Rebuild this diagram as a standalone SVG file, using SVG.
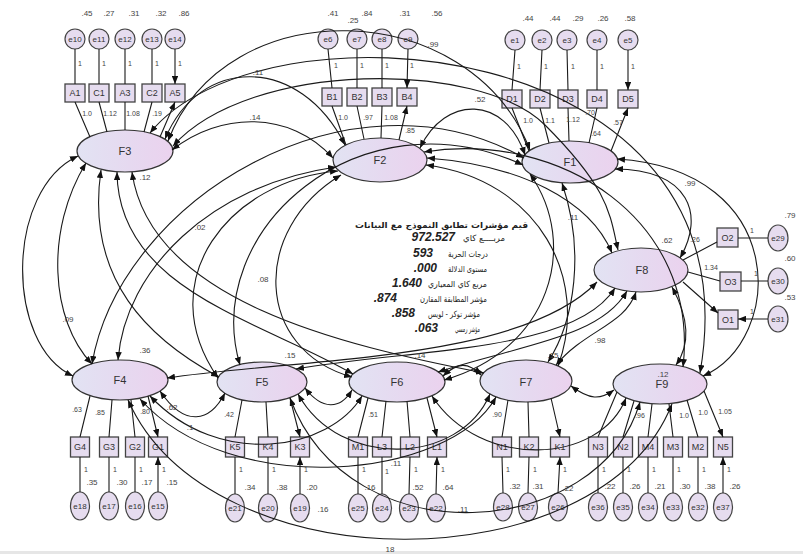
<svg xmlns="http://www.w3.org/2000/svg" width="803" height="554" viewBox="0 0 803 554">
<defs>
<linearGradient id="lg" x1="0" y1="0" x2="1" y2="0"><stop offset="0" stop-color="#e2e3f3"/><stop offset="0.55" stop-color="#e6d9f0"/><stop offset="1" stop-color="#ebd2ee"/></linearGradient>
<marker id="ah" viewBox="0 0 10 8" refX="10" refY="4" markerWidth="8" markerHeight="6.4" markerUnits="userSpaceOnUse" orient="auto-start-reverse"><path d="M0,0L10,4L0,8z" fill="#111"/></marker>
</defs>
<style>
.lat ellipse{fill:url(#lg);stroke:#333;stroke-width:1.2}
.box rect{fill:#e6dcef;stroke:#444;stroke-width:1.3}
.err ellipse{fill:#e6dcef;stroke:#444;stroke-width:1.2}
.fl{font-family:"Liberation Sans",Arial,sans-serif;font-size:11px;fill:#333;text-anchor:middle}
.bl{font-family:"Liberation Sans",Arial,sans-serif;font-size:9px;fill:#333;text-anchor:middle}
.el{font-family:"Liberation Sans",Arial,sans-serif;font-size:8px;fill:#333;text-anchor:middle}
.t{font-family:"Liberation Sans",Arial,sans-serif;font-size:8px;fill:#444;text-anchor:middle}
.s{font-family:"Liberation Sans",Arial,sans-serif;font-size:7px;fill:#444;text-anchor:middle}
.ld{fill:none;stroke:#1a1a1a;stroke-width:1.1;marker-end:url(#ah)}
.cv{fill:none;stroke:#1a1a1a;stroke-width:1.1;marker-start:url(#ah);marker-end:url(#ah)}
.ar{font-family:"DejaVu Sans","Noto Sans",sans-serif;font-size:8.5px;fill:#222;text-anchor:end}
.vl{font-family:"Liberation Sans",Arial,sans-serif;font-size:12px;font-weight:bold;font-style:italic;fill:#222;text-anchor:end}
</style>
<rect width="803" height="554" fill="#fff"/>
<rect y="551" width="803" height="3" fill="#e6e6e6"/>

<g id="F1" class="lat"><ellipse cx="570" cy="162" rx="48" ry="21"/><text class="fl" x="570" y="166">F1</text></g>
<g id="F2" class="lat"><ellipse cx="380" cy="160" rx="47" ry="22"/><text class="fl" x="380" y="164">F2</text></g>
<g id="F3" class="lat"><ellipse cx="125" cy="151" rx="48" ry="21"/><text class="fl" x="125" y="155">F3</text></g>
<g id="F4" class="lat"><ellipse cx="120" cy="380" rx="48" ry="20"/><text class="fl" x="120" y="384">F4</text></g>
<g id="F5" class="lat"><ellipse cx="262" cy="382" rx="45" ry="20"/><text class="fl" x="262" y="386">F5</text></g>
<g id="F6" class="lat"><ellipse cx="397" cy="382" rx="48" ry="20"/><text class="fl" x="397" y="386">F6</text></g>
<g id="F7" class="lat"><ellipse cx="526" cy="381" rx="46" ry="21"/><text class="fl" x="526" y="386">F7</text></g>
<g id="F8" class="lat"><ellipse cx="641" cy="270" rx="47" ry="22"/><text class="fl" x="642" y="274">F8</text></g>
<g id="F9" class="lat"><ellipse cx="660" cy="384" rx="47" ry="20"/><text class="fl" x="662" y="388">F9</text></g>

<g id="A1" class="box"><rect x="65" y="84" width="20" height="18"/><text class="bl" x="75" y="96">A1</text></g>
<g id="C1" class="box"><rect x="89" y="84" width="20" height="18"/><text class="bl" x="99" y="96">C1</text></g>
<g id="A3" class="box"><rect x="115" y="84" width="20" height="18"/><text class="bl" x="125" y="96">A3</text></g>
<g id="C2" class="box"><rect x="142" y="84" width="20" height="18"/><text class="bl" x="152" y="96">C2</text></g>
<g id="A5" class="box"><rect x="165" y="84" width="20" height="18"/><text class="bl" x="175" y="96">A5</text></g>
<g id="e10" class="err"><ellipse cx="75" cy="39" rx="10" ry="10"/><text class="el" x="75" y="42">e10</text></g>
<g id="e11" class="err"><ellipse cx="99" cy="39" rx="10" ry="10"/><text class="el" x="99" y="42">e11</text></g>
<g id="e12" class="err"><ellipse cx="125" cy="39" rx="10" ry="10"/><text class="el" x="125" y="42">e12</text></g>
<g id="e13" class="err"><ellipse cx="152" cy="39" rx="10" ry="10"/><text class="el" x="152" y="42">e13</text></g>
<g id="e14" class="err"><ellipse cx="175" cy="39" rx="10" ry="10"/><text class="el" x="175" y="42">e14</text></g>

<g id="B1" class="box"><rect x="322" y="88" width="20" height="18"/><text class="bl" x="332" y="100">B1</text></g>
<g id="B2" class="box"><rect x="347" y="88" width="20" height="18"/><text class="bl" x="357" y="100">B2</text></g>
<g id="B3" class="box"><rect x="372" y="88" width="20" height="18"/><text class="bl" x="382" y="100">B3</text></g>
<g id="B4" class="box"><rect x="397" y="88" width="20" height="18"/><text class="bl" x="407" y="100">B4</text></g>
<g id="e6" class="err"><ellipse cx="328" cy="39" rx="10" ry="10"/><text class="el" x="328" y="42">e6</text></g>
<g id="e7" class="err"><ellipse cx="357" cy="39" rx="10" ry="10"/><text class="el" x="357" y="42">e7</text></g>
<g id="e8" class="err"><ellipse cx="382" cy="39" rx="10" ry="10"/><text class="el" x="382" y="42">e8</text></g>
<g id="e9" class="err"><ellipse cx="408" cy="39" rx="10" ry="10"/><text class="el" x="408" y="42">e9</text></g>

<g id="D1" class="box"><rect x="502" y="90" width="20" height="18"/><text class="bl" x="512" y="102">D1</text></g>
<g id="D2" class="box"><rect x="530" y="90" width="20" height="18"/><text class="bl" x="540" y="102">D2</text></g>
<g id="D3" class="box"><rect x="558" y="90" width="20" height="18"/><text class="bl" x="568" y="102">D3</text></g>
<g id="D4" class="box"><rect x="587" y="90" width="20" height="18"/><text class="bl" x="597" y="102">D4</text></g>
<g id="D5" class="box"><rect x="618" y="90" width="20" height="18"/><text class="bl" x="628" y="102">D5</text></g>
<g id="e1" class="err"><ellipse cx="515" cy="40" rx="10" ry="10"/><text class="el" x="515" y="43">e1</text></g>
<g id="e2" class="err"><ellipse cx="542" cy="40" rx="10" ry="10"/><text class="el" x="542" y="43">e2</text></g>
<g id="e3" class="err"><ellipse cx="567" cy="40" rx="10" ry="10"/><text class="el" x="567" y="43">e3</text></g>
<g id="e4" class="err"><ellipse cx="597" cy="40" rx="10" ry="10"/><text class="el" x="597" y="43">e4</text></g>
<g id="e5" class="err"><ellipse cx="628" cy="40" rx="10" ry="10"/><text class="el" x="628" y="43">e5</text></g>

<g id="O2" class="box"><rect x="717" y="228" width="21" height="19"/><text class="bl" x="727.5" y="241">O2</text></g>
<g id="O3" class="box"><rect x="720" y="272" width="21" height="19"/><text class="bl" x="730.5" y="285">O3</text></g>
<g id="O1" class="box"><rect x="718" y="310" width="20" height="19"/><text class="bl" x="728" y="323">O1</text></g>
<g id="e29" class="err"><ellipse cx="778" cy="238" rx="10" ry="13"/><text class="el" x="778" y="241">e29</text></g>
<g id="e30" class="err"><ellipse cx="778" cy="281" rx="10" ry="13"/><text class="el" x="778" y="284">e30</text></g>
<g id="e31" class="err"><ellipse cx="778" cy="319" rx="10" ry="13"/><text class="el" x="778" y="322">e31</text></g>

<g id="G4" class="box"><rect x="70.5" y="437" width="19" height="20"/><text class="bl" x="80" y="450">G4</text></g>
<g id="G3" class="box"><rect x="99.5" y="437" width="19" height="20"/><text class="bl" x="109" y="450">G3</text></g>
<g id="G2" class="box"><rect x="125.5" y="437" width="19" height="20"/><text class="bl" x="135" y="450">G2</text></g>
<g id="G1" class="box"><rect x="148.5" y="437" width="19" height="20"/><text class="bl" x="158" y="450">G1</text></g>
<g id="e18" class="err"><ellipse cx="80" cy="506" rx="9.5" ry="14"/><text class="el" x="80" y="509">e18</text></g>
<g id="e17" class="err"><ellipse cx="109" cy="506" rx="9.5" ry="14"/><text class="el" x="109" y="509">e17</text></g>
<g id="e16" class="err"><ellipse cx="135" cy="506" rx="9.5" ry="14"/><text class="el" x="135" y="509">e16</text></g>
<g id="e15" class="err"><ellipse cx="158" cy="506" rx="9.5" ry="14"/><text class="el" x="158" y="509">e15</text></g>

<g id="K5" class="box"><rect x="225.5" y="437" width="19" height="20"/><text class="bl" x="235" y="450">K5</text></g>
<g id="K4" class="box"><rect x="258.5" y="437" width="19" height="20"/><text class="bl" x="268" y="450">K4</text></g>
<g id="K3" class="box"><rect x="290.5" y="437" width="19" height="20"/><text class="bl" x="300" y="450">K3</text></g>
<g id="e21" class="err"><ellipse cx="235" cy="508" rx="9.5" ry="14"/><text class="el" x="235" y="511">e21</text></g>
<g id="e20" class="err"><ellipse cx="268" cy="508" rx="9.5" ry="14"/><text class="el" x="268" y="511">e20</text></g>
<g id="e19" class="err"><ellipse cx="300" cy="508" rx="9.5" ry="14"/><text class="el" x="300" y="511">e19</text></g>

<g id="M1" class="box"><rect x="348.5" y="437" width="19" height="20"/><text class="bl" x="358" y="450">M1</text></g>
<g id="L3" class="box"><rect x="372.5" y="437" width="19" height="20"/><text class="bl" x="382" y="450">L3</text></g>
<g id="L2" class="box"><rect x="400.5" y="437" width="19" height="20"/><text class="bl" x="410" y="450">L2</text></g>
<g id="L1" class="box"><rect x="427.5" y="437" width="19" height="20"/><text class="bl" x="437" y="450">L1</text></g>
<g id="e25" class="err"><ellipse cx="358" cy="508" rx="9.5" ry="14"/><text class="el" x="358" y="511">e25</text></g>
<g id="e24" class="err"><ellipse cx="382" cy="508" rx="9.5" ry="14"/><text class="el" x="382" y="511">e24</text></g>
<g id="e23" class="err"><ellipse cx="409" cy="508" rx="9.5" ry="14"/><text class="el" x="409" y="511">e23</text></g>
<g id="e22" class="err"><ellipse cx="436" cy="508" rx="9.5" ry="14"/><text class="el" x="436" y="511">e22</text></g>

<g id="N1" class="box"><rect x="492.5" y="437" width="19" height="20"/><text class="bl" x="502" y="450">N1</text></g>
<g id="K2" class="box"><rect x="519.5" y="437" width="19" height="20"/><text class="bl" x="529" y="450">K2</text></g>
<g id="K1" class="box"><rect x="550.5" y="437" width="19" height="20"/><text class="bl" x="560" y="450">K1</text></g>
<g id="e28" class="err"><ellipse cx="503" cy="507" rx="9.5" ry="14"/><text class="el" x="503" y="510">e28</text></g>
<g id="e27" class="err"><ellipse cx="528" cy="507" rx="9.5" ry="14"/><text class="el" x="528" y="510">e27</text></g>
<g id="e26" class="err"><ellipse cx="558" cy="507" rx="9.5" ry="14"/><text class="el" x="558" y="510">e26</text></g>

<g id="N3" class="box"><rect x="588.5" y="437" width="19" height="20"/><text class="bl" x="598" y="450">N3</text></g>
<g id="N2" class="box"><rect x="613.5" y="437" width="19" height="20"/><text class="bl" x="623" y="450">N2</text></g>
<g id="M4" class="box"><rect x="638.5" y="437" width="19" height="20"/><text class="bl" x="648" y="450">M4</text></g>
<g id="M3" class="box"><rect x="663.5" y="437" width="19" height="20"/><text class="bl" x="673" y="450">M3</text></g>
<g id="M2" class="box"><rect x="688.5" y="437" width="19" height="20"/><text class="bl" x="698" y="450">M2</text></g>
<g id="N5" class="box"><rect x="713.5" y="437" width="19" height="20"/><text class="bl" x="723" y="450">N5</text></g>
<g id="e36" class="err"><ellipse cx="598" cy="507" rx="9.5" ry="14"/><text class="el" x="598" y="510">e36</text></g>
<g id="e35" class="err"><ellipse cx="623" cy="507" rx="9.5" ry="14"/><text class="el" x="623" y="510">e35</text></g>
<g id="e34" class="err"><ellipse cx="648" cy="507" rx="9.5" ry="14"/><text class="el" x="648" y="510">e34</text></g>
<g id="e33" class="err"><ellipse cx="673" cy="507" rx="9.5" ry="14"/><text class="el" x="673" y="510">e33</text></g>
<g id="e32" class="err"><ellipse cx="698" cy="507" rx="9.5" ry="14"/><text class="el" x="698" y="510">e32</text></g>
<g id="e37" class="err"><ellipse cx="723" cy="507" rx="9.5" ry="14"/><text class="el" x="723" y="510">e37</text></g>

<g id="fit">
<text class="ar" x="528" y="228" font-weight="bold" textLength="173" lengthAdjust="spacingAndGlyphs">قيم مؤشرات تطابق النموذج مع البيانات</text>
<text class="ar" x="505" y="241" textLength="42" lengthAdjust="spacingAndGlyphs">مربــــع كاي</text>
<text class="ar" x="488" y="257" textLength="40" lengthAdjust="spacingAndGlyphs">درجات الحرية</text>
<text class="ar" x="487" y="272" textLength="39" lengthAdjust="spacingAndGlyphs">مستوى الدلالة</text>
<text class="ar" x="487" y="287" textLength="59" lengthAdjust="spacingAndGlyphs">مربع كاي المعياري</text>
<text class="ar" x="487" y="302" textLength="67" lengthAdjust="spacingAndGlyphs">مؤشر المطابقة المقارن</text>
<text class="ar" x="480" y="317" textLength="52" lengthAdjust="spacingAndGlyphs">مؤشر توكر - لويس</text>
<text class="ar" x="480" y="332" textLength="25" lengthAdjust="spacingAndGlyphs">مؤشر رمسي</text>
<text class="vl" x="455" y="241">972.527</text>
<text class="vl" x="433" y="257">593</text>
<text class="vl" x="437" y="272">.000</text>
<text class="vl" x="422" y="287">1.640</text>
<text class="vl" x="397" y="302">.874</text>
<text class="vl" x="415" y="317">.858</text>
<text class="vl" x="438" y="332">.063</text>
</g>

<g id="connectors">
<path class="ld" d="M75,49V84M99,49V84M125,49V84M152,49V84M175,49V84"/>
<path class="ld" d="M328,49L332,88M357,49V88M382,49V88M408,49L407,88"/>
<path class="ld" d="M515,50L512,90M542,50L540,90M567,50L568,90M597,50V90M628,50V90"/>
<path class="ld" d="M768,238H738M768,281H741M768,319H738"/>
<path class="ld" d="M80,492V457M109,492V457M135,492V457M158,492V457"/>
<path class="ld" d="M235,494V457M268,494V457M300,494V457"/>
<path class="ld" d="M358,494V457M382,494V457M409,494L410,457M436,494L437,457"/>
<path class="ld" d="M503,493L502,457M528,493L529,457M558,493L560,457"/>
<path class="ld" d="M598,493V457M623,493V457M648,493V457M673,493V457M698,493V457M723,493V457"/>
<path class="ld" d="M90,137L75,102M107,132L99,102M125,130V102M144,132L152,102M160,137L175,102"/>
<path class="ld" d="M346,145L332,106M364,139L357,106M381,138L382,106M399,140L407,106"/>
<path class="ld" d="M529,151L512,108M549,143L540,108M569,141L568,108M589,143L597,108M611,151L628,108"/>
<path class="ld" d="M683,260L717,242M688,272L720,281M683,282L718,313"/>
<path class="ld" d="M90,396L80,437M112,400L109,437M131,400L135,437M148,396L158,437"/>
<path class="ld" d="M242,400L235,437M266,402L268,437M290,398L300,437"/>
<path class="ld" d="M368,398L358,437M386,401L382,437M407,401L410,437M427,398L437,437"/>
<path class="ld" d="M508,400L502,437M528,402L529,437M551,398L560,437"/>
<path class="ld" d="M617,392L598,437M634,401L623,437M652,404L648,437M669,404L673,437M687,400L698,437M704,391L723,437"/>
<path class="cv" d="M525,155C505,95 445,95 420,148"/>
<path class="cv" d="M168,141C225,-10 470,-5 530,150"/>
<path class="cv" d="M524,158C350,60 120,200 92,364"/>
<path class="cv" d="M523,165C360,90 200,230 240,365"/>
<path class="cv" d="M530,174C580,245 550,350 444,380"/>
<path class="cv" d="M562,183C585,250 575,320 548,362"/>
<path class="cv" d="M615,169C690,170 705,215 680,258"/>
<path class="cv" d="M617,159C790,170 785,340 703,376"/>
<path class="cv" d="M172,150C220,112 290,110 333,158"/>
<path class="cv" d="M165,139C200,55 300,55 345,145"/>
<path class="cv" d="M173,146C250,60 480,60 545,125S610,215 618,250"/>
<path class="cv" d="M150,133C260,-5 760,30 700,373"/>
<path class="cv" d="M78,156C5,190 5,345 73,376"/>
<path class="cv" d="M86,163C45,230 50,320 92,364"/>
<path class="cv" d="M101,170C85,280 150,340 219,377"/>
<path class="cv" d="M117,172C118,290 260,320 353,374"/>
<path class="cv" d="M132,172C150,300 340,345 484,373"/>
<path class="cv" d="M336,167C210,185 125,270 118,360"/>
<path class="cv" d="M338,171C230,180 150,280 218,378"/>
<path class="cv" d="M341,175C250,230 255,350 352,377"/>
<path class="cv" d="M426,165C540,180 590,280 558,366"/>
<path class="cv" d="M427,158C520,165 590,200 612,253"/>
<path class="cv" d="M424,152C560,130 700,220 683,367"/>
<path class="cv" d="M160,391C185,428 210,422 225,393"/>
<path class="cv" d="M150,396C220,470 330,450 362,396"/>
<path class="cv" d="M140,399C230,500 450,480 496,397"/>
<path class="cv" d="M167,378C300,358 520,362 597,282"/>
<path class="cv" d="M128,400C210,585 600,585 672,404"/>
<path class="cv" d="M305,388C322,410 340,410 352,390"/>
<path class="cv" d="M298,394C340,470 460,465 490,394"/>
<path class="cv" d="M296,369C420,348 575,352 615,288"/>
<path class="cv" d="M290,398C350,560 600,540 640,402"/>
<path class="cv" d="M443,376C458,362 468,362 481,375"/>
<path class="cv" d="M438,372C520,345 600,338 627,291"/>
<path class="cv" d="M432,396C480,470 600,465 626,398"/>
<path class="cv" d="M556,365C585,330 625,325 636,292"/>
<path class="cv" d="M571,386C590,400 600,400 614,390"/>
<path class="cv" d="M672,287C690,320 690,345 676,365"/>
</g>

<g id="labels">
<text class="t" x="87" y="16">.45</text><text class="t" x="109" y="16">.27</text><text class="t" x="134" y="16">.31</text><text class="t" x="161" y="16">.32</text><text class="t" x="184" y="16">.86</text>
<text class="t" x="333" y="16">.41</text><text class="t" x="367" y="16">.84</text><text class="t" x="353" y="23">.25</text><text class="t" x="405" y="16">.31</text><text class="t" x="437" y="16">.56</text>
<text class="t" x="528" y="21">.44</text><text class="t" x="555" y="21">.44</text><text class="t" x="578" y="21">.29</text><text class="t" x="603" y="21">.26</text><text class="t" x="630" y="21">.58</text>
<g class="s">
<text x="80" y="66">1</text><text x="104" y="66">1</text><text x="130" y="66">1</text><text x="157" y="66">1</text><text x="180" y="66">1</text>
<text x="336" y="68">1</text><text x="362" y="68">1</text><text x="387" y="68">1</text><text x="412" y="68">1</text>
<text x="519" y="69">1</text><text x="546" y="69">1</text><text x="573" y="69">1</text><text x="602" y="69">1</text><text x="633" y="69">1</text>
<text x="752" y="233">1</text><text x="756" y="276">1</text><text x="752" y="314">1</text>
<text x="86" y="472">1</text><text x="115" y="472">1</text><text x="141" y="472">1</text><text x="164" y="472">1</text>
<text x="241" y="472">1</text><text x="274" y="472">1</text><text x="306" y="472">1</text>
<text x="364" y="472">1</text><text x="387" y="474">1</text><text x="416" y="472">1</text><text x="443" y="472">1</text>
<text x="508" y="472">1</text><text x="535" y="472">1</text><text x="565" y="472">1</text>
<text x="604" y="472">1</text><text x="629" y="472">1</text><text x="654" y="472">1</text><text x="679" y="472">1</text><text x="704" y="472">1</text><text x="729" y="472">1</text>
<text x="87" y="116">1.0</text><text x="110" y="116">1.12</text><text x="133" y="116">1.08</text><text x="157" y="116">.19</text>
<text x="343" y="120">1.0</text><text x="368" y="120">.97</text><text x="391" y="120">1.08</text><text x="410" y="133">.85</text>
<text x="528" y="123">1.0</text><text x="550" y="123">1.1</text><text x="573" y="122">1.12</text><text x="590" y="115">.70</text><text x="618" y="125">.57</text><text x="596" y="136">.64</text>
<text x="695" y="242">.26</text><text x="711" y="270">1.34</text>
<text x="77" y="412">.63</text><text x="100" y="415">.85</text><text x="145" y="414">.80</text>
<text x="229" y="417">.42</text><text x="373" y="417">.51</text><text x="497" y="417">.90</text>
<text x="640" y="418">.96</text><text x="684" y="418">1.0</text><text x="703" y="415">1.0</text><text x="725" y="414">1.05</text>
</g>
<text class="t" x="92" y="485">.35</text><text class="t" x="122" y="485">.30</text><text class="t" x="147" y="485">.17</text><text class="t" x="172" y="485">.15</text>
<text class="t" x="250" y="490">.34</text><text class="t" x="282" y="490">.38</text><text class="t" x="312" y="490">.20</text>
<text class="t" x="370" y="490">.16</text><text class="t" x="396" y="466">.11</text><text class="t" x="418" y="490">.52</text><text class="t" x="448" y="490">.64</text>
<text class="t" x="515" y="489">.32</text><text class="t" x="538" y="489">.31</text><text class="t" x="568" y="491">.22</text>
<text class="t" x="610" y="489">.22</text><text class="t" x="635" y="489">.26</text><text class="t" x="660" y="489">.21</text><text class="t" x="685" y="489">.30</text><text class="t" x="710" y="489">.38</text><text class="t" x="735" y="489">.26</text>
<text class="t" x="790" y="218">.79</text><text class="t" x="790" y="261">.60</text><text class="t" x="790" y="300">.53</text>
<text class="t" x="480" y="102">.52</text>
<text class="t" x="433" y="47">.99</text>
<text class="t" x="258" y="75">.11</text>
<text class="t" x="255" y="120">.14</text>
<text class="t" x="145" y="180">.12</text>
<text class="t" x="200" y="230">.02</text>
<text class="t" x="263" y="282">.08</text>
<text class="t" x="68" y="322">.09</text>
<text class="t" x="145" y="353">.36</text>
<text class="t" x="573" y="220">.11</text>
<text class="t" x="690" y="186">.99</text>
<text class="t" x="667" y="243">.62</text>
<text class="t" x="600" y="343">.98</text>
<text class="t" x="290" y="358">.15</text>
<text class="t" x="420" y="358">.14</text>
<text class="t" x="553" y="358">.15</text>
<text class="t" x="663" y="377">.12</text>
<text class="t" x="172" y="410">.62</text>
<text class="t" x="190" y="430">.1</text>
<text class="t" x="323" y="512">.16</text>
<text class="t" x="463" y="512">.11</text>
<text class="t" x="390" y="552">18</text>
</g>
</svg>
